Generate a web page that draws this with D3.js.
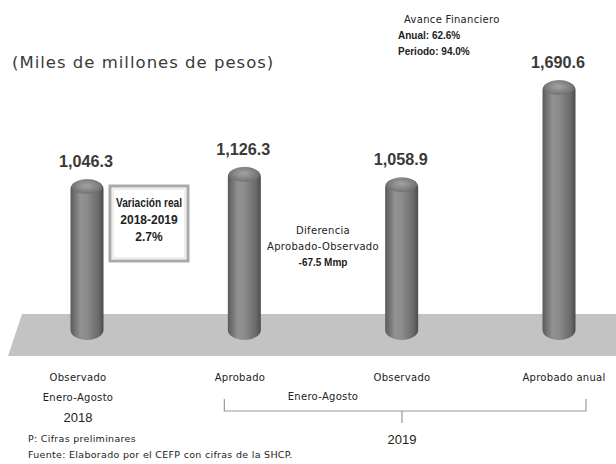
<!DOCTYPE html>
<html>
<head>
<meta charset="utf-8">
<script src="https://cdn.jsdelivr.net/npm/d3@7"></script>
<style>
  body { margin: 0; background: #fff; }
  svg { display: block; font-family: "DejaVu Sans", sans-serif; }
</style>
</head>
<body>
<div id="chart"></div>
<script>
const categories = ["Observado", "Aprobado", "Observado", "Aprobado anual"];
const values = [1046.3, 1126.3, 1058.9, 1690.6];
const subLabels = ["Enero-Agosto", "", "", ""];
const unitNote = "(Miles de millones de pesos)";
const avanceLines = ["Avance Financiero", "Anual: 62.6%", "Periodo: 94.0%"];
const variacionLines = ["Variación real", "2018-2019", "2.7%"];
const diferenciaLines = ["Diferencia", "Aprobado-Observado", "-67.5 Mmp"];
const notes = ["P: Cifras preliminares", "Fuente: Elaborado por el CEFP con cifras de la SHCP."];

const width = 616, height = 464;
const svg = d3.select("#chart").append("svg")
  .attr("width", width).attr("height", height);

const defs = svg.append("defs");
const grad = defs.append("linearGradient").attr("id", "cyl")
  .attr("x1", "0%").attr("x2", "100%").attr("y1", "0%").attr("y2", "0%");
grad.append("stop").attr("offset", "0%").attr("stop-color", "#5a5a5a");
grad.append("stop").attr("offset", "30%").attr("stop-color", "#929292");
grad.append("stop").attr("offset", "50%").attr("stop-color", "#8c8c8c");
grad.append("stop").attr("offset", "85%").attr("stop-color", "#6a6a6a");
grad.append("stop").attr("offset", "100%").attr("stop-color", "#4c4c4c");

const capGrad = defs.append("radialGradient").attr("id", "cap")
  .attr("cx", "50%").attr("cy", "40%").attr("r", "60%");
capGrad.append("stop").attr("offset", "0%").attr("stop-color", "#a8a8a8");
capGrad.append("stop").attr("offset", "100%").attr("stop-color", "#6c6c6c");

// platform
svg.append("path")
  .attr("d", "M22,314 L616,314 L616,356 L8,356 Z")
  .attr("fill", "#c3c3c3");

const x = d3.scalePoint().domain(d3.range(values.length)).range([87, 559]);
const labelX = d3.scalePoint().domain(d3.range(values.length)).range([78, 564]);
const y = d3.scaleLinear().domain([0, d3.max(values)]).range([340, 80]);
const barW = 33;

const bars = svg.append("g").selectAll("g").data(values).join("g");
bars.append("rect")
  .attr("x", (d, i) => x(i) - barW / 2)
  .attr("y", d => y(d))
  .attr("width", barW)
  .attr("height", d => y(0) - y(d))
  .attr("rx", barW / 2).attr("ry", 10)
  .attr("fill", "url(#cyl)");
bars.append("ellipse")
  .attr("cx", (d, i) => x(i))
  .attr("cy", d => y(d) + 8)
  .attr("rx", barW / 2 - 1).attr("ry", 7)
  .attr("fill", "url(#cap)").attr("opacity", 0.8);

const fmt = d3.format(",.1f");
svg.append("g").selectAll("text").data(values).join("text")
  .attr("x", (d, i) => x(i) - 1)
  .attr("y", d => y(d) - 12)
  .attr("text-anchor", "middle")
  .attr("font-family", "'Liberation Sans', sans-serif")
  .attr("font-weight", "bold")
  .attr("font-size", 17)
  .attr("fill", "#3a3a3a")
  .attr("textLength", 54).attr("lengthAdjust", "spacingAndGlyphs")
  .text(d => fmt(d));

svg.append("text")
  .attr("x", 12).attr("y", 68)
  .attr("font-size", 16.5).attr("fill", "#3a3a3a")
  .attr("letter-spacing", 1)
  .text(unitNote);

const small = sel => sel.attr("font-size", 10).attr("letter-spacing", 0.3).attr("fill", "#222");
const smallBold = sel => sel.attr("font-family", "'Liberation Sans', sans-serif")
  .attr("font-weight", "bold").attr("font-size", 10).attr("letter-spacing", 0);

// Avance financiero
svg.append("g").selectAll("text").data(avanceLines).join("text")
  .attr("x", (d, i) => i === 0 ? 404 : 398)
  .attr("y", (d, i) => 23 + i * 16)
  .call(small)
  .each(function (d, i) { if (i > 0) d3.select(this).call(smallBold); })
  .text(d => d);

// Variación real box
svg.append("rect").attr("x", 110).attr("y", 186).attr("width", 78).attr("height", 75)
  .attr("fill", "#fff").attr("stroke", "#aaa").attr("stroke-width", 3);
svg.append("rect").attr("x", 113).attr("y", 189).attr("width", 72).attr("height", 69)
  .attr("fill", "none").attr("stroke", "#ddd").attr("stroke-width", 1);
svg.append("g").selectAll("text").data(variacionLines).join("text")
  .attr("x", 149).attr("y", (d, i) => 207 + i * 17)
  .attr("text-anchor", "middle")
  .attr("font-family", "'Liberation Sans', sans-serif")
  .attr("font-weight", "bold").attr("font-size", 12).attr("fill", "#222")
  .attr("textLength", (d, i) => i === 0 ? 66 : null)
  .attr("lengthAdjust", "spacingAndGlyphs")
  .text(d => d);

svg.append("g").selectAll("text").data(diferenciaLines).join("text")
  .attr("x", 323).attr("y", (d, i) => 234 + i * 16)
  .attr("text-anchor", "middle")
  .call(small)
  .each(function (d, i) { if (i === 2) d3.select(this).call(smallBold); })
  .text(d => d);

// category labels
svg.append("g").selectAll("text").data(categories).join("text")
  .attr("x", (d, i) => labelX(i)).attr("y", 381)
  .attr("text-anchor", "middle").call(small)
  .text(d => d);
svg.append("g").selectAll("text").data(subLabels.filter(d => d)).join("text")
  .attr("x", labelX(0)).attr("y", 401)
  .attr("text-anchor", "middle").call(small)
  .text(d => d);
svg.append("text").attr("x", labelX(0)).attr("y", 422)
  .attr("text-anchor", "middle").attr("font-family", "'Liberation Sans', sans-serif")
  .attr("font-size", 13).attr("fill", "#222").text("2018");

// bracket for 2019
const bx0 = x(1) - 20, bx1 = x(3) + 27, bmid = labelX(2);
svg.append("path")
  .attr("d", `M${bx0},399 V411 H${bx1} V399 M${bmid},411 V423`)
  .attr("fill", "none").attr("stroke", "#999").attr("stroke-width", 1.2);
svg.append("text").attr("x", (x(1) + x(2)) / 2).attr("y", 400)
  .attr("text-anchor", "middle").call(small).text("Enero-Agosto");
svg.append("text").attr("x", bmid).attr("y", 444)
  .attr("text-anchor", "middle").attr("font-family", "'Liberation Sans', sans-serif")
  .attr("font-size", 13).attr("fill", "#222").text("2019");

svg.append("g").selectAll("text").data(notes).join("text")
  .attr("x", 28).attr("y", (d, i) => 442 + i * 16)
  .call(small).attr("font-size", 9.5)
  .text(d => d);
</script>
</body>
</html>
